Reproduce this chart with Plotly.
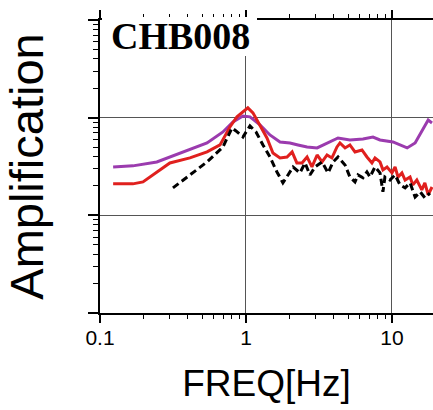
import plotly.graph_objects as go

# --- data ---
purple_freq = [0.123, 0.168, 0.245, 0.370, 0.541, 0.695, 0.814, 0.953, 1.065, 1.247,
               1.459, 1.71, 2.00, 2.27, 2.62, 3.07, 3.59, 4.27, 5.15, 6.33,
               7.41, 8.28, 10.16, 12.7, 14.4, 16.3, 17.7, 18.8]
purple_amp = [3.13, 3.21, 3.52, 4.46, 5.51, 7.14, 9.04, 10.4, 10.2, 8.42,
              6.65, 5.64, 5.51, 5.26, 5.01, 4.90, 5.51, 6.20, 5.91, 6.05,
              6.34, 5.91, 5.64, 4.90, 5.51, 7.49, 9.46, 8.83]

red_freq = [0.123, 0.168, 0.197, 0.245, 0.301, 0.413, 0.541, 0.664, 0.776, 0.867,
            0.984, 1.03, 1.116, 1.247, 1.392, 1.530, 1.71, 1.91, 2.07, 2.23,
            2.42, 2.62, 2.83, 3.07, 3.32, 3.59, 3.88, 4.20, 4.40, 4.77,
            5.15, 5.58, 6.23, 6.74, 7.29, 7.65, 8.28, 8.67, 9.25, 10.0,
            10.5, 11.0, 11.7, 12.3, 13.3, 13.9, 14.8, 16.0, 16.8, 17.7, 18.8]
red_amp = [2.10, 2.10, 2.20, 2.78, 3.44, 3.87, 4.46, 5.26, 8.03, 10.2,
           12.0, 12.6, 11.2, 8.42, 6.20, 4.35, 3.87, 3.96, 4.46, 3.44,
           3.44, 3.96, 3.13, 4.15, 3.52, 4.15, 3.87, 5.01, 5.51, 4.90,
           5.26, 4.46, 4.67, 3.96, 3.44, 3.87, 3.52, 2.92, 3.13, 2.72,
           3.13, 2.47, 2.72, 2.30, 2.47, 2.05, 2.30, 1.82, 2.15, 1.62, 1.95]

black_freq = [0.316, 0.413, 0.541, 0.695, 0.802, 0.854, 0.953, 1.065, 1.171, 1.307,
              1.459, 1.63, 1.79, 1.94, 2.10, 2.34, 2.54, 2.74, 2.97, 3.32,
              3.65, 3.95, 4.27, 4.77, 5.15, 5.58, 5.85, 6.33, 6.74, 7.07,
              7.65, 8.28, 8.67, 8.95, 9.68, 10.5, 11.35, 12.3, 13.3, 14.4,
              15.6, 16.8, 18.2]
black_amp = [1.91, 2.59, 3.52, 5.01, 7.85, 7.31, 6.34, 8.22, 7.14, 5.26,
             3.96, 2.78, 2.15, 2.59, 3.13, 2.72, 3.44, 2.59, 3.13, 3.52,
             2.72, 3.52, 3.96, 3.28, 2.47, 2.20, 2.59, 2.42, 2.78, 2.47,
             3.13, 2.72, 1.74, 2.47, 2.30, 2.59, 2.05, 1.91, 2.15, 1.54,
             1.74, 1.51, 1.69]

x_tickvals = [0.1, 1, 10]
x_ticktext = ["0.1", "1", "10"]
y_tickvals = [0.1, 1, 10, 100]
station = "CHB008"

fig = go.Figure()
fig.add_trace(go.Scatter(x=purple_freq, y=purple_amp, mode="lines",
                         line=dict(color="#9B3BAE", width=3), showlegend=False))
fig.add_trace(go.Scatter(x=red_freq, y=red_amp, mode="lines",
                         line=dict(color="#E0201E", width=3), showlegend=False))
fig.add_trace(go.Scatter(x=black_freq, y=black_amp, mode="lines",
                         line=dict(color="black", width=3, dash="7px,4px"), showlegend=False))

axis_font = dict(family="Liberation Sans, Arial, sans-serif", color="black")

fig.update_xaxes(type="log", range=[-1, 1.281],
                 showline=True, linecolor="black", linewidth=2, mirror="ticks",
                 ticks="outside", ticklen=8, tickwidth=1.5, tickcolor="black",
                 tickvals=x_tickvals, ticktext=x_ticktext,
                 tickfont=dict(size=21, **axis_font), ticklabelstandoff=-3,
                 showgrid=True, gridcolor="#555555", gridwidth=1, zeroline=False,
                 minor=dict(ticks="outside", ticklen=4, tickwidth=1, tickcolor="black",
                            dtick="D1", showgrid=False),
                 title=dict(text="FREQ[Hz]", font=dict(size=37, **axis_font), standoff=22))

fig.update_yaxes(type="log", range=[-1, 2],
                 showline=True, linecolor="black", linewidth=2, mirror="ticks",
                 ticks="outside", ticklen=10, tickwidth=1.5, tickcolor="black",
                 tickvals=y_tickvals, showticklabels=False,
                 showgrid=True, gridcolor="#555555", gridwidth=1, zeroline=False,
                 minor=dict(ticks="outside", ticklen=5, tickwidth=1, tickcolor="black",
                            dtick="D1", showgrid=False),
                 title=dict(text="Amplification", font=dict(size=47, **axis_font), standoff=31))

fig.add_shape(type="rect", xref="paper", yref="paper",
              x0=0.006, x1=0.4715, y0=0.877, y1=1.010,
              fillcolor="white", line=dict(width=0), layer="above")
fig.add_annotation(text=station, xref="paper", yref="paper", x=0.243, y=0.945,
                   showarrow=False, xanchor="center", yanchor="middle",
                   font=dict(family="Liberation Serif, Times New Roman, serif", size=38,
                             color="black", weight="bold"))

fig.update_layout(width=433, height=410,
                  margin=dict(l=100, r=0, t=20, b=97, autoexpand=False),
                  plot_bgcolor="white", paper_bgcolor="white")

fig.write_html("out.html", config={"displayModeBar": False},
               post_script="document.body.style.margin='0';document.body.style.padding='0';")
